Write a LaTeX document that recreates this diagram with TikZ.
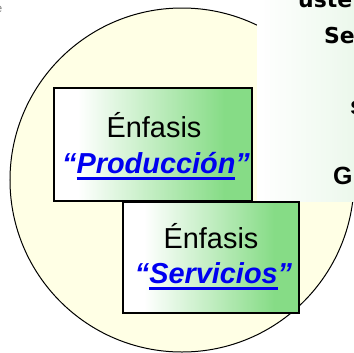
\documentclass[tikz,border=0pt]{standalone}
\usepackage{fontspec}
\setmainfont{Liberation Sans}
\newfontfamily\dejavufont{DejaVu Sans}
\definecolor{circfill}{RGB}{255,255,229}
\definecolor{boxgreen}{RGB}{134,220,134}
\definecolor{panelgreen}{RGB}{236,248,236}
\definecolor{linkblue}{RGB}{0,0,240}
\pgfdeclarehorizontalshading{boxshade}{100bp}{color(0bp)=(white); color(31bp)=(white); color(68bp)=(boxgreen); color(100bp)=(boxgreen)}
\newcommand\thickul[1]{\setbox0\hbox{#1}\rlap{\raisebox{-7bp}{\color{linkblue}\rule{\wd0}{3bp}}}\box0}
\begin{document}
\begin{tikzpicture}[x=1bp,y=-1bp,
  boxnode/.style={draw=black, line width=1.6bp, shade, shading=boxshade, inner sep=0pt},
  plain/.style={font=\fontsize{29}{34}\selectfont, anchor=base, inner sep=0pt, text=black},
  emphtext/.style={font=\fontsize{29}{34}\selectfont\bfseries\itshape, anchor=base, inner sep=0pt, text=linkblue},
  paneltext/.style={font=\dejavufont\bfseries\fontsize{22}{26}\selectfont, anchor=base west, inner sep=0pt, text=black},
  paneltextb/.style={font=\bfseries\fontsize{25}{30}\selectfont, anchor=base west, inner sep=0pt, text=black}]
\useasboundingbox (0,0) rectangle (354,353);
\fill[white] (0,0) rectangle (354,353);
% big circle
\draw[fill=circfill, line width=1bp] (182,180) circle[radius=172bp];
% right panel
\shade[left color=white, right color=panelgreen] (257,0) rectangle (354,201.5);
\begin{scope}
\clip (0,0) rectangle (354,353);
\node[paneltext] (pa) at (298,7) {uste};
\node[paneltext] (pb) at (324,43) {Se};
\node[paneltextb] (pc) at (350,114) {s};
\node[paneltextb] (pd) at (333,184) {G};
\node[font=\fontsize{12}{14}\selectfont, text=gray, anchor=base east, inner sep=0pt] (pe) at (2.5,12) {e};
\end{scope}
% boxes
\node[boxnode, minimum width=198bp, minimum height=113bp] (b1) at (153,144.5) {};
\node[boxnode, minimum width=176bp, minimum height=111bp] (b2) at (211,257.5) {};
% texts box 1
\node[plain] (e1) at (154,137) {Énfasis};
\node[emphtext] (p1) at (156,173) {“\thickul{Producción}”};
% texts box 2
\node[plain] (e2) at (211,248) {Énfasis};
\node[emphtext] (p2) at (213.5,283) {“\thickul{Servicios}”};
\end{tikzpicture}
\end{document}
